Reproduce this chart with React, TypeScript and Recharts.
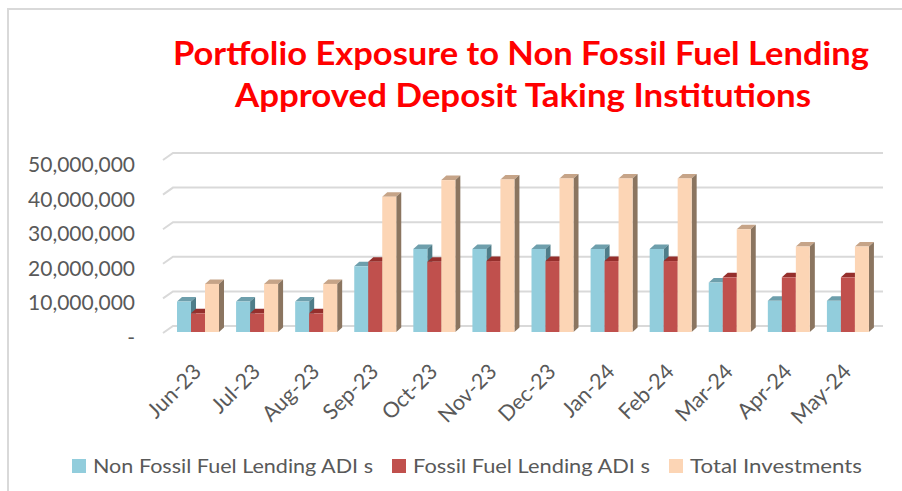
import { BarChart, Bar, XAxis, YAxis, CartesianGrid, Legend } from "recharts";

// values (AUD)
const months = [
  "Jun-23", "Jul-23", "Aug-23", "Sep-23", "Oct-23", "Nov-23",
  "Dec-23", "Jan-24", "Feb-24", "Mar-24", "Apr-24", "May-24",
];
const nonFossil = [
  8800000, 8800000, 8800000, 19000000, 24000000, 24000000,
  24000000, 24000000, 24000000, 14300000, 9000000, 9000000,
];
const fossil = [
  5400000, 5400000, 5400000, 20300000, 20300000, 20500000,
  20500000, 20500000, 20500000, 15800000, 15800000, 15800000,
];
const total = [
  13900000, 13900000, 13900000, 39100000, 43900000, 44100000,
  44400000, 44400000, 44400000, 29700000, 24700000, 24700000,
];
const yTicks = [0, 10000000, 20000000, 30000000, 40000000, 50000000];

const data = months.map((month, i) => ({
  month,
  nonFossil: nonFossil[i],
  fossil: fossil[i],
  total: total[i],
}));

const SERIES = [
  { key: "nonFossil", name: "Non Fossil Fuel Lending ADI s", front: "#92CDDC", top: "#6E9FAC", side: "#4F7D89", textW: 280 },
  { key: "fossil", name: "Fossil Fuel Lending ADI s", front: "#C0504D", top: "#952F2C", side: "#8A3A37", textW: 237 },
  { key: "total", name: "Total Investments", front: "#FCD5B5", top: "#C6A488", side: "#8B7560", textW: 172 },
];

const FONT = "Lato, 'Open Sans', sans-serif";
const LABEL = "#595959";
const DX = 5;
const DY = 4.5;

// fake 3D column: front face + top + right side
const box3d = (c: { front: string; top: string; side: string }) => (props: any) => {
  const { x, y, width, height } = props;
  if (height == null || width == null) return <g />;
  return (
    <g>
      <polygon
        points={`${x},${y} ${x + DX},${y - DY} ${x + width + DX},${y - DY} ${x + width},${y}`}
        fill={c.top}
      />
      <polygon
        points={`${x + width},${y} ${x + width + DX},${y - DY} ${x + width + DX},${y + height - DY} ${x + width},${y + height}`}
        fill={c.side}
      />
      <rect x={x} y={y} width={width} height={height} fill={c.front} />
    </g>
  );
};

// back-wall gridline with the little floor diagonal at the left
const gridLine = (props: any) => {
  const { x1, x2, y1, index } = props;
  return (
    <polyline
      key={`g-${index}-${y1}`}
      points={`${x1 - 5},${y1 + 1} ${x1 + 5},${y1 - 6} ${x2 + 6},${y1 - 6}`}
      fill="none"
      stroke="#D9D9D9"
      strokeWidth={2}
    />
  );
};

const fmt = (v: number) => (v === 0 ? "-" : v.toLocaleString("en-US"));

const YTick = (props: any) => {
  const { x, y, payload } = props;
  return (
    <text x={x - 33} y={y + 13} textAnchor="end" fill={LABEL} fontSize={21} fontFamily={FONT}>
      {fmt(payload.value)}
    </text>
  );
};

const XTick = (props: any) => {
  const { x, y, payload } = props;
  const ax = x + 5;
  const ay = y + 41;
  return (
    <text
      x={ax}
      y={ay}
      transform={`rotate(-45, ${ax}, ${ay})`}
      textAnchor="end"
      fill={LABEL}
      fontSize={21.5}
      fontFamily={FONT}
    >
      {payload.value}
    </text>
  );
};

const renderLegend = () => {
  let cx = 72;
  const items = SERIES.map((s) => {
    const sx = cx;
    cx += 14 + 7 + s.textW + 19;
    return (
      <g key={s.key}>
        <rect x={sx} y={9} width={14} height={14} fill={s.front} />
        <text
          x={sx + 21}
          y={23}
          fill={LABEL}
          fontSize={20}
          fontFamily={FONT}
          textLength={s.textW}
          lengthAdjust="spacingAndGlyphs"
        >
          {s.name}
        </text>
      </g>
    );
  });
  return (
    <svg width={902} height={30} style={{ display: "block" }}>
      {items}
    </svg>
  );
};

export default function App() {
  return (
    <div
      style={{
        position: "absolute",
        left: 0,
        top: 0,
        width: 902,
        height: 491,
        background: "#fff",
        overflow: "hidden",
      }}
    >
      <div
        style={{
          position: "absolute",
          left: 7,
          top: 8,
          width: 1000,
          height: 1000,
          borderTop: "2px solid #D9D9D9",
          borderLeft: "2px solid #D9D9D9",
        }}
      />
      <svg width={902} height={130} style={{ position: "absolute", left: 0, top: 0 }}>
        <text
          x={521}
          y={65}
          textAnchor="middle"
          fill="#FF0000"
          fontSize={32}
          fontWeight={700}
          fontFamily={FONT}
          textLength={696}
          lengthAdjust="spacingAndGlyphs"
        >
          Portfolio Exposure to Non Fossil Fuel Lending
        </text>
        <text
          x={523}
          y={107}
          textAnchor="middle"
          fill="#FF0000"
          fontSize={32}
          fontWeight={700}
          fontFamily={FONT}
          textLength={576}
          lengthAdjust="spacingAndGlyphs"
        >
          Approved Deposit Taking Institutions
        </text>
      </svg>
      <div style={{ position: "absolute", left: 0, top: 0 }}>
        <BarChart
          width={902}
          height={491}
          data={data}
          margin={{ top: 159, right: 25, left: 8, bottom: 69 }}
          barGap={0}
          barSize={14}
        >
          <CartesianGrid vertical={false} horizontal={gridLine} />
          <XAxis
            dataKey="month"
            height={60}
            interval={0}
            tick={XTick}
            tickLine={false}
            axisLine={false}
            tickSize={0}
            tickMargin={0}
          />
          <YAxis
            width={160}
            domain={[0, 50000000]}
            ticks={yTicks}
            tick={YTick}
            tickLine={false}
            axisLine={false}
            tickSize={0}
            tickMargin={0}
          />
          <Legend
            verticalAlign="bottom"
            content={renderLegend}
            wrapperStyle={{ left: 0, top: 450, bottom: "auto", width: 902, height: 30 }}
          />
          {SERIES.map((s) => (
            <Bar
              key={s.key}
              dataKey={s.key}
              name={s.name}
              fill={s.front}
              shape={box3d(s)}
              isAnimationActive={false}
            />
          ))}
        </BarChart>
      </div>
    </div>
  );
}
